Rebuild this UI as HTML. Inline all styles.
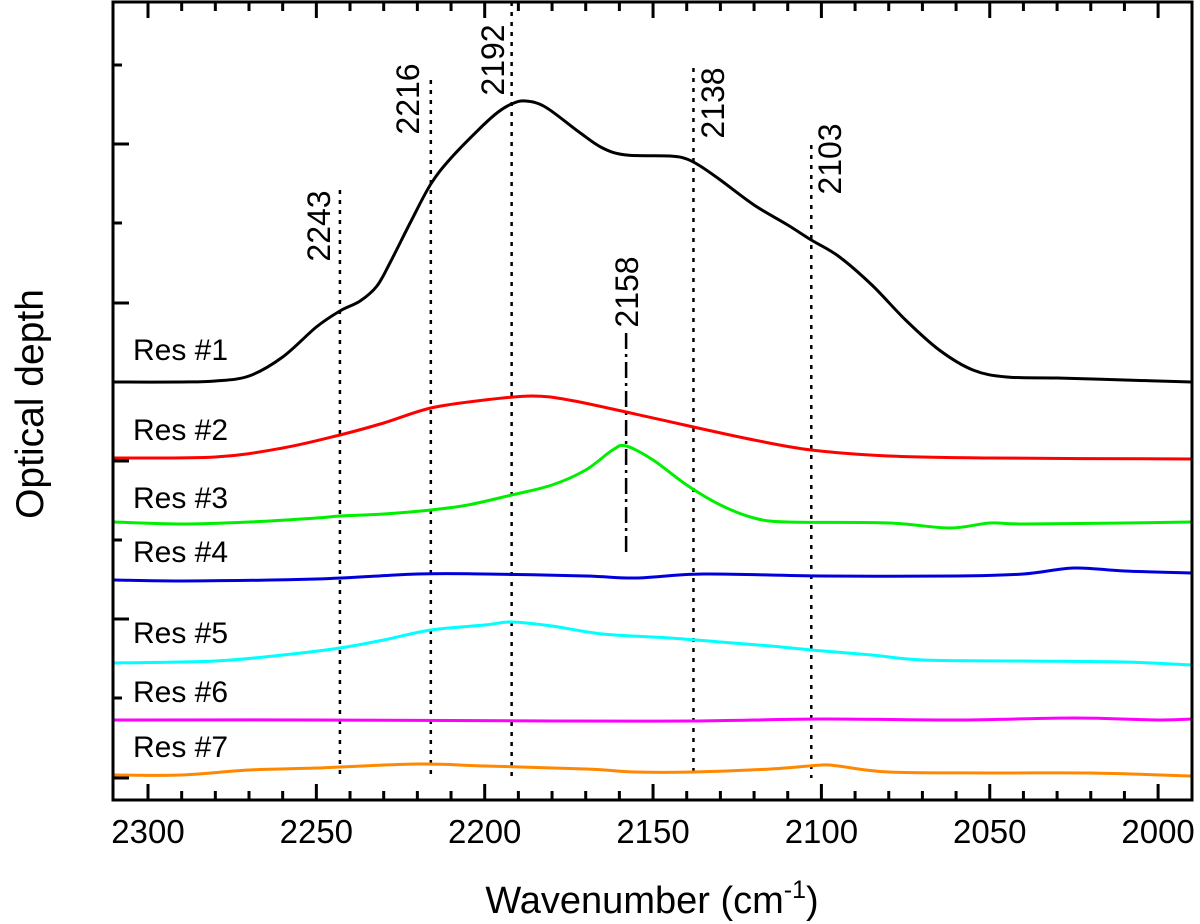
<!DOCTYPE html>
<html><head><meta charset="utf-8"><style>
body{margin:0;background:#fff}
svg{display:block;font-family:"Liberation Sans",sans-serif}
</style></head><body>
<svg id="chart" width="1200" height="924" viewBox="0 0 1200 924">
<g id="plot"></g>
</svg>
<script>
const xTicks=[2300,2250,2200,2150,2100,2050,2000];
const seriesNames=["Res #1","Res #2","Res #3","Res #4","Res #5","Res #6","Res #7"];
const seriesColors=["#000","#f00","#0e0","#00d","#0ff","#f0f","#f80"];
const res1=[[2310,382],[2290,382],[2280,381],[2270,376],[2260,357],[2250,327],[2243,311],[2237,301],[2232,286],[2228,262],[2222,222],[2216,184],[2210,158],[2201,127],[2196,112],[2192,104],[2188,101],[2182,107],[2172,132],[2165,148],[2158,155],[2145,156],[2140,159],[2136,166],[2130,180],[2120,205],[2110,225],[2103,240],[2095,256],[2085,285],[2075,320],[2065,350],[2055,370],[2045,377],[2030,378],[2010,380],[1990,382]];
const res2=[[2310,458],[2280,457],[2260,448],[2243,435],[2230,423],[2216,408],[2200,400],[2186,396],[2175,400],[2158,412],[2138,427],[2120,440],[2103,450],[2080,456],[2050,458],[1990,459]];
const res3=[[2310,522],[2290,524],[2270,522],[2250,518],[2243,516],[2230,514],[2216,510],[2205,505],[2192,495],[2180,485],[2170,470],[2162,450],[2158,446],[2150,460],[2140,485],[2130,505],[2120,518],[2110,522],[2080,523],[2062,528],[2050,523],[2040,524],[2010,523],[1990,522]];
const res4=[[2310,580],[2290,581],[2250,579],[2220,574],[2200,574],[2170,576],[2155,578],[2135,574],[2100,576],[2060,576],[2040,574],[2025,568],[2010,571],[1990,573]];
const res5=[[2310,663],[2280,661],[2260,655],[2243,648],[2230,640],[2216,630],[2200,625],[2192,622],[2180,626],[2165,634],[2145,638],[2130,642],[2115,646],[2103,650],[2085,655],[2070,660],[2040,661],[2010,662],[1990,665]];
const res6=[[2310,720],[2250,720],[2180,721],[2138,721],[2100,719],[2060,720],[2025,718],[2000,720],[1990,719]];
const res7=[[2310,775],[2290,775],[2270,770],[2250,768],[2220,764],[2200,766],[2170,769],[2155,772],[2138,772],[2115,769],[2100,765],[2095,766],[2080,772],[2050,773],[2020,773],[1990,776]];
const series=[res1,res2,res3,res4,res5,res6,res7];
const labelYs=[360,440,508,562,643,702,757];
const markers=[2243,2216,2192,2138,2103];
const markerTops=[190,80,2,68,145];
</script>
<script>
const NS="http://www.w3.org/2000/svg";
const g=document.getElementById('plot');
const L=113,R=1192,T=2,B=800;
const X=v=>148+(2300-v)*3.367;
function mk(t,a,p){const e=document.createElementNS(NS,t);for(const k in a)e.setAttribute(k,a[k]);(p||g).appendChild(e);return e;}
function path(pts){
  const P=pts.map(p=>[X(p[0]),p[1]]);let d="M"+P[0][0]+","+P[0][1];
  for(let i=0;i<P.length-1;i++){const p0=P[i-1]||P[i],p1=P[i],p2=P[i+1],p3=P[i+2]||p2;
    d+=` C${p1[0]+(p2[0]-p0[0])/6},${p1[1]+(p2[1]-p0[1])/6} ${p2[0]-(p3[0]-p1[0])/6},${p2[1]-(p3[1]-p1[1])/6} ${p2[0]},${p2[1]}`;}
  return d;}
markers.forEach((m,i)=>{
  const l=mk('line',{x1:X(m),x2:X(m),y1:markerTops[i],y2:778,stroke:'#000','stroke-width':2.5,'stroke-dasharray':'4 6'});
  
  
});
const dd=mk('line',{x1:X(2158),x2:X(2158),y1:333,y2:556,stroke:'#000','stroke-width':2.5,'stroke-dasharray':'16 5 3 5'});


series.forEach((s,i)=>{
  const p=mk('path',{d:path(s),fill:'none',stroke:seriesColors[i],'stroke-width':3});
  
  
  const t=mk('text',{x:133,y:labelYs[i],'font-size':30});t.textContent=seriesNames[i];
  
  
});
const mlab=[[2243,330,226],[2216,419,99],[2192,504,60],[2138,724,103],[2103,841,159],[2158,638,292]];
mlab.forEach(m=>{const t=mk('text',{x:m[1],y:m[2],'font-size':32,'text-anchor':'middle',transform:`rotate(-90 ${m[1]} ${m[2]})`});t.textContent=m[0];
  
  });
const f=mk('rect',{x:L,y:T,width:R-L,height:B-T,fill:'none',stroke:'#000','stroke-width':3});


for(let v=2310;v>=1990;v-=10){const x=X(v);if(x<L+2||x>R-2)continue;const maj=v%50==0;const len=maj?16:9;
  mk('line',{x1:x,x2:x,y1:B,y2:B-len,stroke:'#000','stroke-width':3});
  mk('line',{x1:x,x2:x,y1:T,y2:T+len,stroke:'#000','stroke-width':3});}
xTicks.forEach(v=>{const t=mk('text',{x:X(v),y:843,'font-size':33,'text-anchor':'middle'});t.textContent=v;
  
  });
[65,144,223,303,382,461,540,619,698,778].forEach((y,i)=>{mk('line',{x1:L,x2:L+(i%2?16:9),y1:y,y2:y,stroke:'#000','stroke-width':3});});
const xt=mk('text',{x:652,y:913,'font-size':38,'text-anchor':'middle'});
xt.innerHTML='Wavenumber (cm<tspan dy="-15" font-size="25">-1</tspan><tspan dy="15">)</tspan>';


const yt=mk('text',{x:43,y:404,'font-size':39,'text-anchor':'middle',transform:'rotate(-90 43 404)'});yt.textContent='Optical depth';


</script>
</body></html>
